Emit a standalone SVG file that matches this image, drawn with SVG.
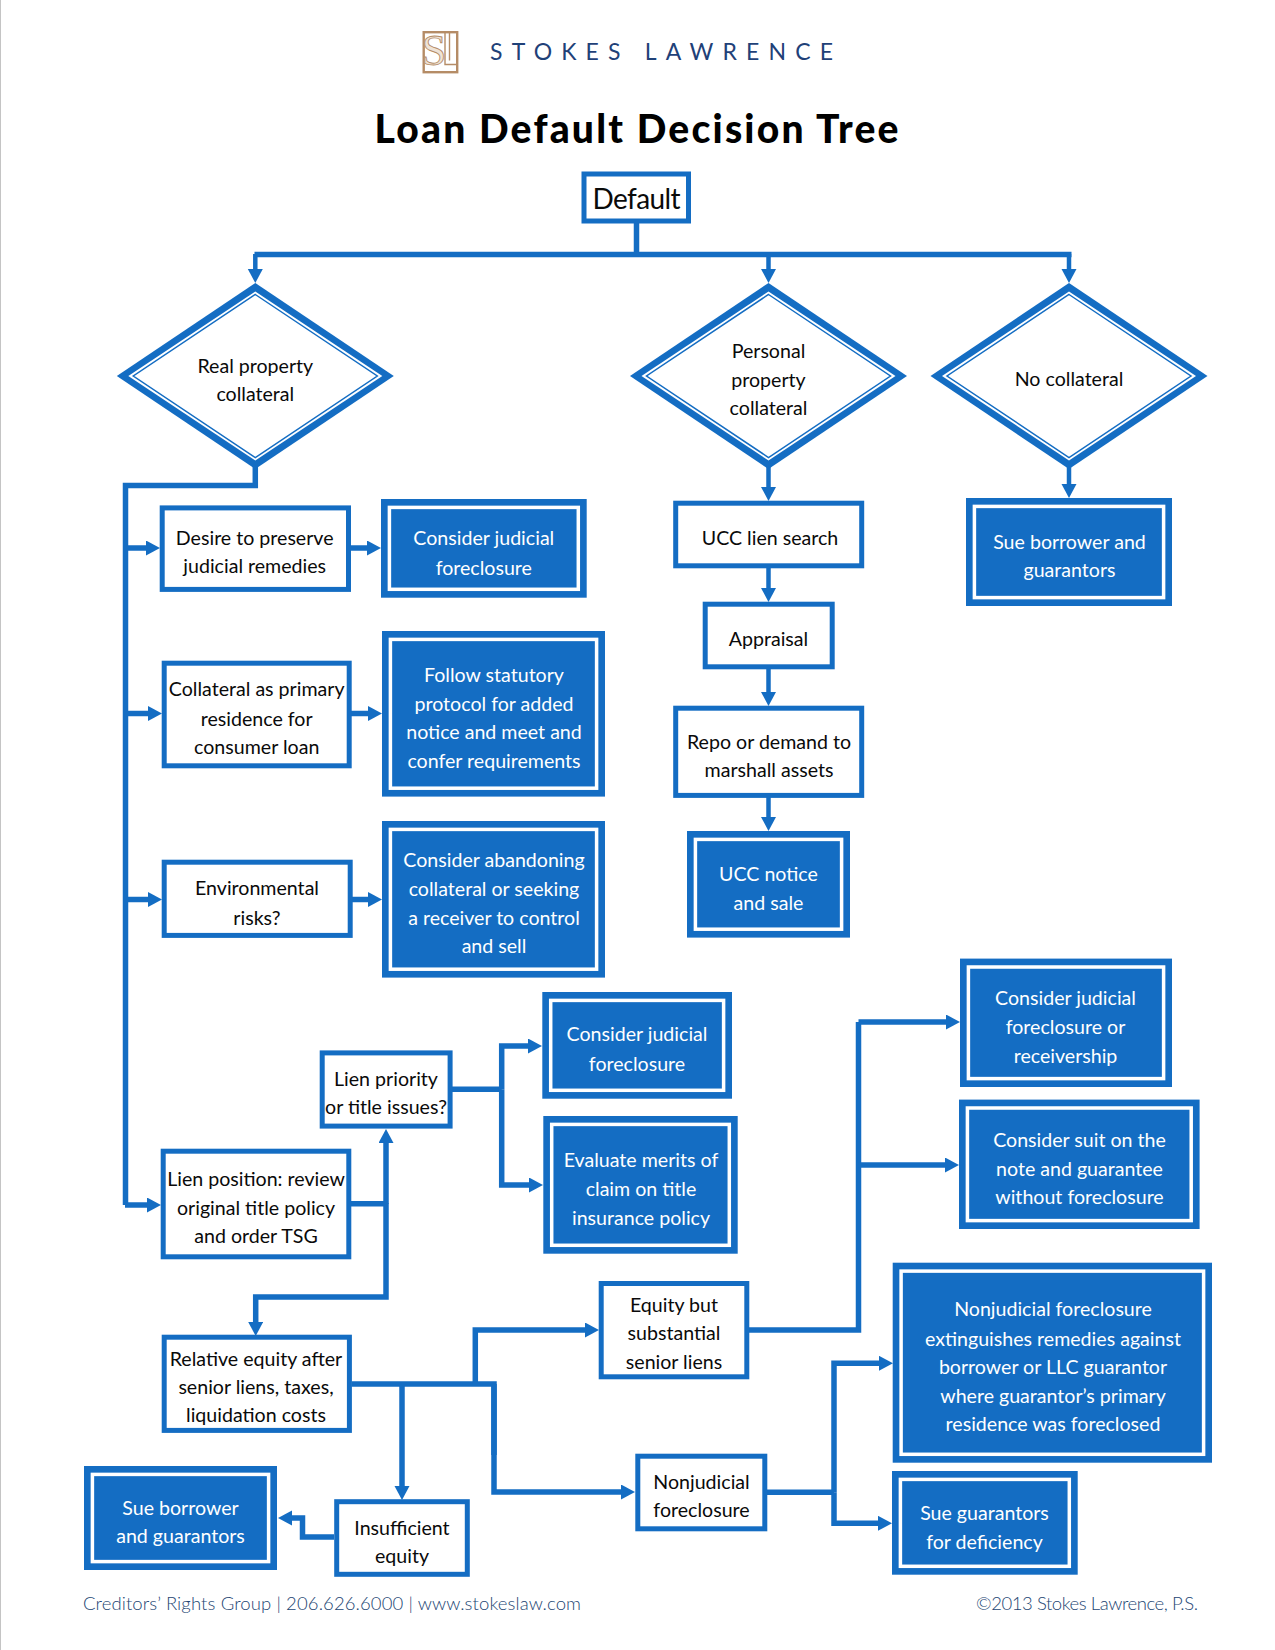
<svg xmlns="http://www.w3.org/2000/svg" width="1275" height="1650" viewBox="0 0 1275 1650">
<style>
text{font-family:"Lato","Open Sans","Liberation Sans",sans-serif;font-size:19.6px;text-anchor:middle;fill:#0a0a0a}
.w text,text.w{fill:#fff}
.b{fill:#fff;stroke:#146dc3;stroke-width:5}
.d{fill:#146dc3}
.di{fill:none;stroke:#fff;stroke-width:3.5}
.c{fill:none;stroke:#146dc3;stroke-width:5.5}
.t{stroke-width:4.5}
.a{marker-end:url(#ah)}
.f{font-size:18.5px;font-weight:300;fill:#1d4673;text-anchor:start}
</style>
<defs><marker id="ah" markerUnits="userSpaceOnUse" markerWidth="17" markerHeight="16" refX="2" refY="7.5" orient="auto"><path d="M0 0L14 7.5L0 15Z" fill="#146dc3"/></marker></defs>
<rect width="1275" height="1650" fill="#fff"/>
<line x1="0.5" y1="0" x2="0.5" y2="1650" stroke="#c4c4c4"/>
<g id="logo"><rect x="423.7" y="32.2" width="33.5" height="40" fill="#fff" stroke="#b58c66" stroke-width="2.4"/>
<path d="M445 33V64.5H456.5M449.5 33V60.5" fill="none" stroke="#b58c66" stroke-width="1.4"/>
<text x="434" y="65" style="font-family:'Liberation Serif',serif;font-size:44px;fill:#efe3d6;stroke:#b58c66;stroke-width:0.9">S</text>
<text x="490" y="60" textLength="343" style="font-size:23px;text-anchor:start;fill:#1f4178">STOKES LAWRENCE</text></g>
<text id="title" x="636.5" y="143" textLength="524" style="font-size:39px;font-weight:900;fill:#000">Loan Default Decision Tree</text>
<g id="connectors">
<path class="c" d="M636.5 223V254.5M254.5 254.5H1071.5"/>
<path class="c t a" d="M255.3 254V271"/><path class="c t a" d="M768.5 254V271"/><path class="c t a" d="M1069 254V271"/>
<path class="c" d="M255.3 465V485.5H125.5V1205"/>
<path class="c a" d="M125 548H148"/><path class="c a" d="M125 713.5H150"/><path class="c a" d="M125 899.5H150"/><path class="c a" d="M125 1205H149"/>
<path class="c a" d="M351 548H369"/><path class="c a" d="M351 713.5H370"/><path class="c a" d="M351 899.5H370"/>
<path class="c t a" d="M768.5 467V489"/><path class="c t a" d="M1069 467V486"/>
<path class="c t a" d="M768.5 568V590"/><path class="c t a" d="M768.5 669V694"/><path class="c t a" d="M768.5 797V819"/>
<path class="c a" d="M351 1203.7H386M386 1203.7V1141"/>
<path class="c a" d="M386 1203V1297H255.7V1324"/>
<path class="c" d="M452 1089.3H501.7"/>
<path class="c a" d="M501.7 1089.3V1046H530"/><path class="c a" d="M501.7 1089.3V1185H531"/>
<path class="c" d="M351.5 1384H494V1455"/>
<path class="c a" d="M475.3 1384V1330H587"/>
<path class="c a" d="M402 1384V1488"/>
<path class="c a" d="M494 1384V1492H623"/>
<path class="c a" d="M334 1537H302.5V1518H290"/>
<path class="c" d="M749 1330H858.5V1022"/>
<path class="c a" d="M858.5 1022H948"/><path class="c a" d="M858.5 1165H947"/>
<path class="c" d="M767 1492.3H834"/>
<path class="c a" d="M834 1492.3V1363.3H881"/><path class="c a" d="M834 1492.3V1523.3H880"/>
</g>
<g id="n-default"><rect class="b" x="584" y="174" width="104.5" height="47"/><text x="636.5" y="209" textLength="88" style="font-size:28px">Default</text></g>
<g id="n-real"><polygon class="d" points="255.3,283 393.8,376 255.3,469 116.8,376"/><polygon fill="#fff" points="255.3,291.5 382.3,376 255.3,460.5 128.3,376"/><polygon fill="#fff" stroke="#146dc3" stroke-width="1.5" points="255.3,294.5 377.3,376 255.3,457.5 133.3,376"/><text x="255.3" y="373">Real property</text><text x="255.3" y="401">collateral</text></g>
<g id="n-personal"><polygon class="d" points="768.5,283 907,376 768.5,469 630,376"/><polygon fill="#fff" points="768.5,291.5 895.5,376 768.5,460.5 641.5,376"/><polygon fill="#fff" stroke="#146dc3" stroke-width="1.5" points="768.5,294.5 890.5,376 768.5,457.5 646.5,376"/><text x="768.5" y="358">Personal</text><text x="768.5" y="387">property</text><text x="768.5" y="415">collateral</text></g>
<g id="n-none"><polygon class="d" points="1069,283 1207.5,376 1069,469 930.5,376"/><polygon fill="#fff" points="1069,291.5 1196,376 1069,460.5 942,376"/><polygon fill="#fff" stroke="#146dc3" stroke-width="1.5" points="1069,294.5 1191,376 1069,457.5 947,376"/><text x="1069" y="386">No collateral</text></g>
<g id="n-desire"><rect class="b" x="162.2" y="507.9" width="186.3" height="81.5"/><text x="254.7" y="545">Desire to preserve</text><text x="254.7" y="572.7">judicial remedies</text></g>
<g id="n-jud1" class="w"><rect class="d" x="381" y="499" width="205.7" height="98.7"/><rect class="di" x="389.4" y="507.4" width="188.9" height="81.9"/><text x="483.8" y="545">Consider judicial</text><text x="483.8" y="574.5">foreclosure</text></g>
<g id="n-primary"><rect class="b" x="164.2" y="663.2" width="185" height="102.6"/><text x="256.7" y="696.3">Collateral as primary</text><text x="256.7" y="725.7">residence for</text><text x="256.7" y="754.1">consumer loan</text></g>
<g id="n-follow" class="w"><rect class="d" x="382" y="631" width="223" height="165.6"/><rect class="di" x="390.4" y="639.4" width="206.2" height="148.8"/><text x="494" y="681.5">Follow statutory</text><text x="494" y="711">protocol for added</text><text x="494" y="739.4">notice and meet and</text><text x="494" y="767.8">confer requirements</text></g>
<g id="n-env"><rect class="b" x="164.2" y="862.2" width="186" height="73.2"/><text x="257" y="895.1">Environmental</text><text x="257" y="924.6">risks?</text></g>
<g id="n-abandon" class="w"><rect class="d" x="382" y="821" width="223" height="156.6"/><rect class="di" x="390.4" y="829.4" width="206.2" height="139.8"/><text x="494" y="866.7">Consider abandoning</text><text x="494" y="896.2">collateral or seeking</text><text x="494" y="924.6">a receiver to control</text><text x="494" y="953">and sell</text></g>
<g id="n-lienpri"><rect class="b" x="322.2" y="1052.9" width="127.9" height="73.2"/><text x="386" y="1085.6">Lien priority</text><text x="386" y="1114">or title issues?</text></g>
<g id="n-jud2" class="w"><rect class="d" x="542.3" y="992" width="189.7" height="106.7"/><rect class="di" x="550.7" y="1000.4" width="172.9" height="89.9"/><text x="637" y="1041.4">Consider judicial</text><text x="637" y="1070.9">foreclosure</text></g>
<g id="n-eval" class="w"><rect class="d" x="543.3" y="1116" width="194.4" height="137.7"/><rect class="di" x="551.7" y="1124.4" width="177.6" height="120.9"/><text x="641" y="1166.6">Evaluate merits of</text><text x="641" y="1196">claim on title</text><text x="641" y="1224.5">insurance policy</text></g>
<g id="n-lienpos"><rect class="b" x="163.2" y="1151.2" width="185.6" height="105.6"/><text x="256" y="1185.6">Lien position: review</text><text x="256" y="1215">original title policy</text><text x="256" y="1243.4">and order TSG</text></g>
<g id="n-relative"><rect class="b" x="164.2" y="1337.2" width="185.2" height="93.2"/><text x="256" y="1365.5">Relative equity after</text><text x="256" y="1394">senior liens, taxes,</text><text x="256" y="1422.4">liquidation costs</text></g>
<g id="n-equity"><rect class="b" x="601.2" y="1283.5" width="145.6" height="93.3"/><text x="674" y="1311.9">Equity but</text><text x="674" y="1340.3">substantial</text><text x="674" y="1368.7">senior liens</text></g>
<g id="n-nonjud"><rect class="b" x="637.8" y="1456.2" width="127" height="72.6"/><text x="701.5" y="1488.6">Nonjudicial</text><text x="701.5" y="1517">foreclosure</text></g>
<g id="n-insuff"><rect class="b" x="336.7" y="1501.7" width="130.6" height="72.6"/><text x="402" y="1535">Insufficient</text><text x="402" y="1563.3">equity</text></g>
<g id="n-sue1" class="w"><rect class="d" x="84" y="1466" width="193" height="104"/><rect class="di" x="92.4" y="1474.4" width="176.2" height="87.2"/><text x="180.5" y="1515">Sue borrower</text><text x="180.5" y="1543.4">and guarantors</text></g>
<g id="n-ucc"><rect class="b" x="675.7" y="503.2" width="186" height="62.6"/><text x="770" y="544.7">UCC lien search</text></g>
<g id="n-appraisal"><rect class="b" x="705.2" y="604.2" width="127" height="62.6"/><text x="768.5" y="645.8">Appraisal</text></g>
<g id="n-repo"><rect class="b" x="675.7" y="708.2" width="186" height="87.2"/><text x="769" y="748.9">Repo or demand to</text><text x="769" y="777.3">marshall assets</text></g>
<g id="n-notice" class="w"><rect class="d" x="687" y="831" width="163" height="106.6"/><rect class="di" x="695.4" y="839.4" width="146.2" height="89.8"/><text x="768.5" y="880.9">UCC notice</text><text x="768.5" y="909.9">and sale</text></g>
<g id="n-sue2" class="w"><rect class="d" x="966" y="498" width="206" height="108"/><rect class="di" x="974.4" y="506.4" width="189.2" height="91.2"/><text x="1069.5" y="549">Sue borrower and</text><text x="1069.5" y="577.3">guarantors</text></g>
<g id="n-jud3" class="w"><rect class="d" x="960" y="958.6" width="212" height="128.4"/><rect class="di" x="968.4" y="967" width="195.2" height="111.6"/><text x="1065.5" y="1004.6">Consider judicial</text><text x="1065.5" y="1034">foreclosure or</text><text x="1065.5" y="1062.5">receivership</text></g>
<g id="n-suit" class="w"><rect class="d" x="959" y="1099.6" width="240.6" height="129.4"/><rect class="di" x="967.4" y="1108" width="223.8" height="112.6"/><text x="1079.5" y="1146.6">Consider suit on the</text><text x="1079.5" y="1176">note and guarantee</text><text x="1079.5" y="1203.5">without foreclosure</text></g>
<g id="n-extinguish" class="w"><rect class="d" x="892.7" y="1262.7" width="319.3" height="200"/><rect class="di" x="901.1" y="1271.1" width="302.5" height="183.2"/><text x="1053" y="1316">Nonjudicial foreclosure</text><text x="1053" y="1345.5">extinguishes remedies against</text><text x="1053" y="1374">borrower or LLC guarantor</text><text x="1053" y="1403.4">where guarantor’s primary</text><text x="1053" y="1430.8">residence was foreclosed</text></g>
<g id="n-suegu" class="w"><rect class="d" x="892" y="1471" width="185.7" height="103.7"/><rect class="di" x="900.4" y="1479.4" width="168.9" height="86.9"/><text x="984.5" y="1520.2">Sue guarantors</text><text x="984.5" y="1548.6">for deficiency</text></g>
<text class="f" x="83" y="1610" textLength="498">Creditors’ Rights Group | 206.626.6000 | www.stokeslaw.com</text>
<text class="f" x="976" y="1610" textLength="222">©2013 Stokes Lawrence, P.S.</text>
</svg>
